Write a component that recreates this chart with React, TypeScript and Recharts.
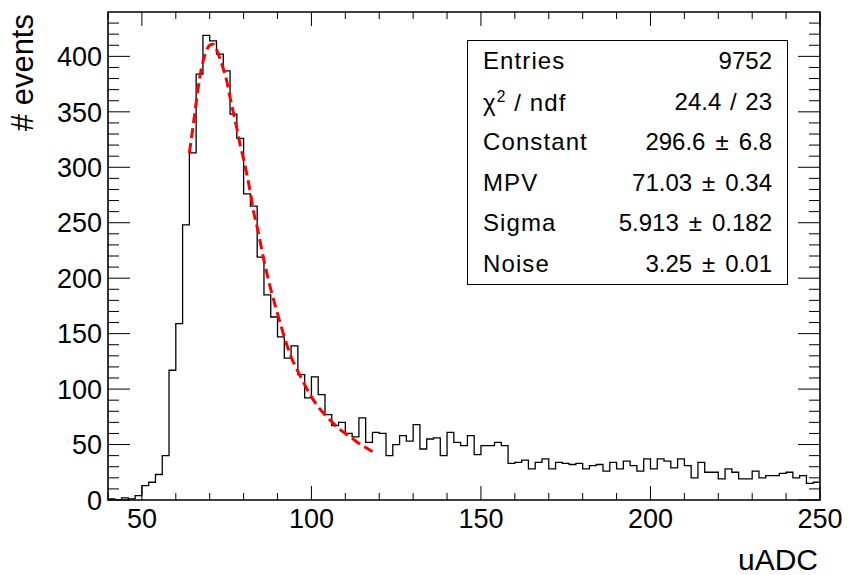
import { ComposedChart, Line, XAxis, YAxis, ReferenceArea, Label } from "recharts";

// histogram: 2 uADC wide bins starting at 40
const HIST_MIN = 40;
const BIN_W = 2;
const counts = [
  1, 0, 2, 1, 4, 13, 16, 23, 40, 117,
  159, 248, 313, 384, 419, 414, 402, 387, 348, 326,
  276, 265, 219, 185, 165, 147, 128, 139, 113, 92,
  111, 95, 77, 67, 70, 60, 57, 74, 52, 61,
  60, 40, 50, 58, 53, 68, 46, 55, 56, 40,
  61, 52, 49, 58, 41, 49, 49, 52, 49, 33,
  34, 36, 28, 34, 37, 28, 34, 33, 32, 33,
  28, 31, 32, 26, 34, 28, 35, 31, 26, 37,
  28, 37, 35, 29, 37, 31, 20, 34, 25, 25,
  19, 28, 25, 19, 19, 26, 20, 22, 22, 24,
  25, 20, 22, 15, 16,
];

// landau x gauss fit
const fitX = [64, 65, 66, 67, 68, 69, 70, 71, 72, 73, 74, 75, 76, 77, 78, 79, 80, 81, 82, 83, 84, 86, 88, 90, 92, 94, 96, 98, 100, 102, 104, 106, 108, 110, 112, 114, 116, 118];
const fitY = [313, 335, 358, 380, 395, 405, 410, 411, 406, 398, 389, 378, 363, 349, 335, 320, 307, 293, 277, 259, 246, 216, 190, 168, 147, 129, 116, 104, 93, 84, 76.6, 70.5, 64.6, 60, 55.6, 51, 47.4, 43.5];

const xTicks = [40, 50, 60, 70, 80, 90, 100, 110, 120, 130, 140, 150, 160, 170, 180, 190, 200, 210, 220, 230, 240, 250];
const yTicks = [0, 10, 20, 30, 40, 50, 60, 70, 80, 90, 100, 110, 120, 130, 140, 150, 160, 170, 180, 190, 200, 210, 220, 230, 240, 250, 260, 270, 280, 290, 300, 310, 320, 330, 340, 350, 360, 370, 380, 390, 400, 410, 420, 430];

const statLabels = ["Entries", "chi2", "Constant", "MPV", "Sigma", "Noise"];
const statValues = ["9752", "24.4 / 23", "296.6", "71.03", "5.913", "3.25"];
const statErrors = ["", "", "6.8", "0.34", "0.182", "0.01"];

const FONT = "'Liberation Sans', Arial, Helvetica, sans-serif";
const PLOT_W = 712;
const PLOT_H = 488;

const histData = counts.map((c, i) => ({ x: HIST_MIN + i * BIN_W, y: c }));
histData.push({ x: HIST_MIN + counts.length * BIN_W, y: counts[counts.length - 1] });
const fitData = fitX.map((x, i) => ({ x, y: fitY[i] }));

function XTick(props: any) {
  const { x, y, payload } = props;
  const v = payload.value;
  const major = v % 50 === 0;
  const len = major ? 14 : 7;
  return (
    <g>
      <line x1={x} x2={x} y1={y} y2={y - len} stroke="#000" />
      <line x1={x} x2={x} y1={y - PLOT_H} y2={y - PLOT_H + len} stroke="#000" />
      {major && v > 40 && (
        <text x={x} y={y + 28} textAnchor="middle" fontSize={27} fontFamily={FONT} fill="#000">
          {v}
        </text>
      )}
    </g>
  );
}

function YTick(props: any) {
  const { x, y, payload } = props;
  const v = payload.value;
  const major = v % 50 === 0;
  const len = major ? 22 : 11;
  return (
    <g>
      <line x1={x} x2={x + len} y1={y} y2={y} stroke="#000" />
      <line x1={x + PLOT_W} x2={x + PLOT_W - len} y1={y} y2={y} stroke="#000" />
      {major && (
        <text x={x - 6} y={y} dy="0.36em" textAnchor="end" fontSize={27} fontFamily={FONT} fill="#000">
          {v}
        </text>
      )}
    </g>
  );
}

export default function App() {
  return (
    <div style={{ position: "relative", width: 848, height: 575, background: "#fff" }}>
      <style>{"body{margin:0}"}</style>
      <ComposedChart width={848} height={575} margin={{ top: 12, right: 28, left: 0, bottom: 0 }}>
        <XAxis
          dataKey="x"
          type="number"
          domain={[40, 250]}
          allowDataOverflow
          ticks={xTicks}
          interval={0}
          height={75}
          tickSize={0}
          tickMargin={0}
          tickLine={false}
          axisLine={false}
          tick={(p: any) => <XTick {...p} />}
        >
          <Label
            content={(p: any) => {
              const vb = p.viewBox;
              return (
                <text x={vb.x + vb.width - 2} y={vb.y + 70} textAnchor="end" fontSize={30} fontFamily={FONT} fill="#000">
                  uADC
                </text>
              );
            }}
          />
        </XAxis>
        <YAxis
          type="number"
          domain={[0, 440]}
          allowDataOverflow
          ticks={yTicks}
          interval={0}
          width={108}
          tickSize={0}
          tickMargin={0}
          tickLine={false}
          axisLine={false}
          tick={(p: any) => <YTick {...p} />}
        >
          <Label
            content={(p: any) => {
              const vb = p.viewBox;
              const tx = vb.x + 33;
              const ty = vb.y + 2;
              return (
                <text x={tx} y={ty} transform={`rotate(-90, ${tx}, ${ty})`} textAnchor="end" fontSize={31} fontFamily={FONT} fill="#000">
                  # events
                </text>
              );
            }}
          />
        </YAxis>
        <ReferenceArea x1={40} x2={250} y1={0} y2={440} fill="none" stroke="#000" strokeWidth={1.6} />
        <Line
          data={histData}
          dataKey="y"
          type="stepAfter"
          stroke="#000"
          strokeWidth={1.3}
          dot={false}
          isAnimationActive={false}
        />
        <Line
          data={fitData}
          dataKey="y"
          type="monotone"
          stroke="#ff0000"
          strokeWidth={3}
          strokeDasharray="10 5"
          dot={false}
          isAnimationActive={false}
        />
      </ComposedChart>

      {/* stats box */}
      <div
        style={{
          position: "absolute",
          left: 467,
          top: 40,
          width: 321,
          height: 245,
          boxSizing: "border-box",
          border: "1px solid #000",
          background: "#fff",
          fontFamily: FONT,
          fontSize: 24,
          color: "#000",
        }}
      >
        {statLabels.map((l, i) => (
          <div
            key={l}
            style={{
              height: 40.5,
              display: "flex",
              alignItems: "center",
              justifyContent: "space-between",
              padding: "0 15px 0 15px",
              lineHeight: 1,
            }}
          >
            <span style={{ letterSpacing: 1.1 }}>
              {l === "chi2" ? (
                <>
                  {"\u03c7"}
                  <sup style={{ fontSize: "0.65em", verticalAlign: "0.6em" }}>2</sup>
                  {" / ndf"}
                </>
              ) : (
                l
              )}
            </span>
            <span style={{ wordSpacing: 2 }}>
              {statValues[i]}
              {statErrors[i] && (
                <>
                  <span style={{ margin: "0 10px" }}>{"\u00b1"}</span>
                  {statErrors[i]}
                </>
              )}
            </span>
          </div>
        ))}
      </div>
    </div>
  );
}
